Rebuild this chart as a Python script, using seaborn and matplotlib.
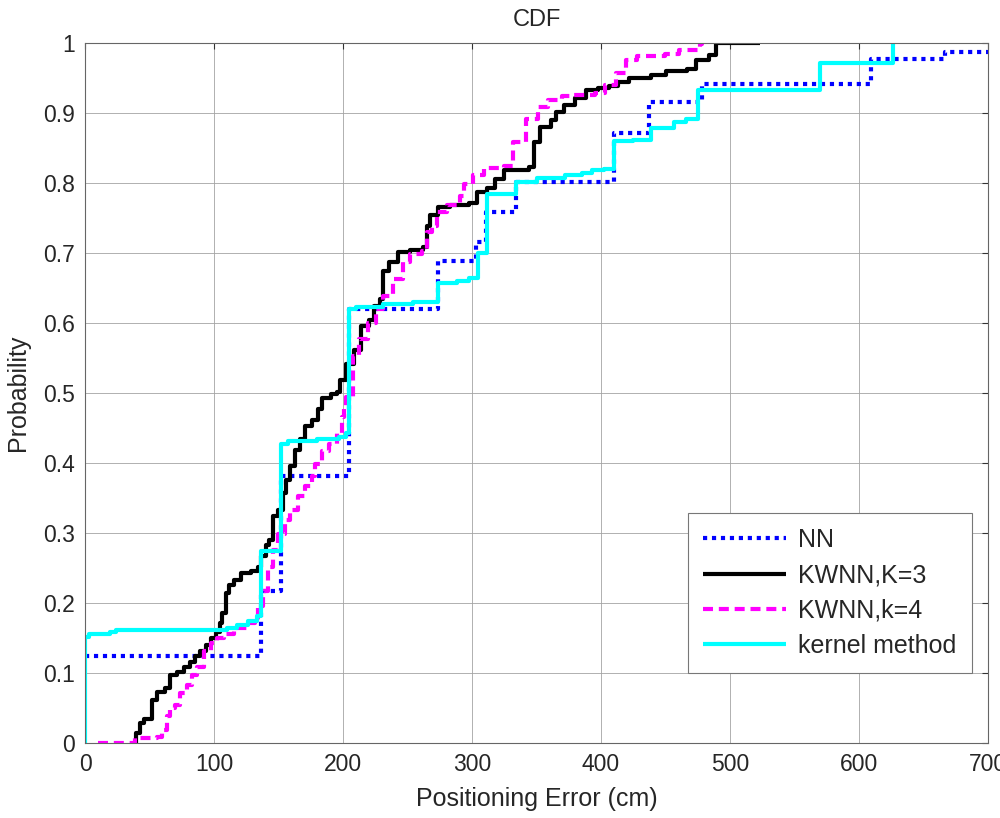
import numpy as np
import pandas as pd
import seaborn as sns
import matplotlib
matplotlib.use("Agg")
import matplotlib.pyplot as plt

# values (step corners of each CDF)
nn_err = [0, 136.6, 151.8, 204.7, 274, 303, 311, 334, 410, 437, 478, 609, 667, 700]
nn_prob = [0.124, 0.217, 0.381, 0.62, 0.689, 0.716, 0.759, 0.801, 0.871, 0.916, 0.942, 0.977, 0.987, 0.987]

k3_err = [37, 39.8, 42.4, 46, 51.6, 55.5, 62, 66, 71, 76.4, 81.7, 85.6, 89.5, 93.5, 97.4,
          101.3, 105, 106.5, 109, 111.8, 115.7, 121, 128.8, 134, 136.6, 140.6, 143, 145.8,
          149.7, 153.7, 156, 159, 162.8, 166.8, 170.7, 176, 181, 184, 190.5, 195.7, 198, 202,
          208.7, 214, 220.5, 224.4, 228.3, 231, 236, 242.6, 251.8, 262, 264.8, 267.4, 274,
          283, 297.4, 304, 311.7, 318, 324.8, 344, 348, 353, 361, 365, 371, 380, 388, 398,
          406, 413, 422, 439, 450, 467, 474, 484, 489, 523]
k3_prob = [0.0, 0.014, 0.028, 0.034, 0.062, 0.073, 0.078, 0.097, 0.102, 0.109, 0.115, 0.124,
           0.131, 0.14, 0.15, 0.159, 0.171, 0.186, 0.214, 0.226, 0.233, 0.243, 0.246, 0.252,
           0.267, 0.283, 0.29, 0.324, 0.333, 0.357, 0.376, 0.396, 0.419, 0.434, 0.453, 0.462,
           0.477, 0.493, 0.498, 0.502, 0.519, 0.541, 0.562, 0.596, 0.604, 0.624, 0.634, 0.675,
           0.687, 0.701, 0.705, 0.708, 0.739, 0.754, 0.766, 0.769, 0.772, 0.787, 0.793, 0.806,
           0.818, 0.823, 0.859, 0.88, 0.89, 0.902, 0.912, 0.921, 0.933, 0.936, 0.938, 0.945,
           0.95, 0.955, 0.96, 0.963, 0.976, 0.983, 1.0, 1.0]

k4_err = [9.7, 38.5, 55.5, 59.4, 63.4, 66, 70, 73.8, 79, 83, 87, 92, 97.4, 102.6, 108, 115.7,
          126, 131.4, 134, 138, 141.9, 145.8, 149.7, 155, 159, 165.4, 170.7, 176, 178.5, 183.8,
          189, 195.5, 199, 200.8, 202, 207.4, 212.6, 219, 225.7, 231, 238.7, 246.5, 251.8, 261,
          264.8, 268.7, 272.6, 280.4, 291, 293.5, 301, 309, 324.5, 332, 341.7, 350.8, 358.7,
          370, 376, 395, 403, 411.6, 419.7, 428, 449.7, 460.5, 477, 478]
k4_prob = [0.0, 0.007, 0.008, 0.019, 0.038, 0.05, 0.054, 0.071, 0.083, 0.097, 0.109, 0.131,
           0.143, 0.15, 0.155, 0.164, 0.171, 0.178, 0.195, 0.217, 0.252, 0.276, 0.298, 0.319,
           0.333, 0.353, 0.367, 0.381, 0.398, 0.417, 0.427, 0.443, 0.466, 0.477, 0.495, 0.553,
           0.577, 0.6, 0.62, 0.639, 0.663, 0.687, 0.699, 0.703, 0.73, 0.739, 0.758, 0.768,
           0.782, 0.799, 0.811, 0.821, 0.825, 0.859, 0.892, 0.909, 0.919, 0.925, 0.926, 0.929,
           0.94, 0.957, 0.976, 0.982, 0.984, 0.99, 0.998, 1.0]

kern_err = [0, 0, 3, 19, 24, 110, 118, 126, 133, 136.6, 151.8, 157.6, 180, 197, 202, 204.7,
            210, 231, 254, 274, 288, 298, 304.4, 311.7, 334, 350, 372, 385, 393, 402, 410, 425,
            439, 456.5, 466, 475.5, 569.4, 626.5]
kern_prob = [0.0, 0.152, 0.155, 0.158, 0.162, 0.164, 0.169, 0.174, 0.182, 0.274, 0.427, 0.431,
             0.434, 0.437, 0.443, 0.62, 0.623, 0.627, 0.63, 0.657, 0.66, 0.664, 0.7, 0.785,
             0.802, 0.807, 0.811, 0.814, 0.818, 0.82, 0.86, 0.862, 0.878, 0.887, 0.892, 0.933,
             0.971, 1.0]

labels = ["NN", "KWNN,K=3", "KWNN,k=4", "kernel method"]
xticks = [0, 100, 200, 300, 400, 500, 600, 700]
yticks = [0, 0.1, 0.2, 0.3, 0.4, 0.5, 0.6, 0.7, 0.8, 0.9, 1.0]
ytick_labels = ["0", "0.1", "0.2", "0.3", "0.4", "0.5", "0.6", "0.7", "0.8", "0.9", "1"]

sns.set_theme(style="white")
plt.rcParams["font.family"] = ["Liberation Sans", "DejaVu Sans"]
plt.rcParams["font.size"] = 18

fig = plt.figure(figsize=(10, 8.18), dpi=100)
ax = fig.add_axes([0.085, 0.0917, 0.903, 0.8557])

series = [
    (nn_err, nn_prob, "#0000ff", (0, (1, 1.15))),
    (k3_err, k3_prob, "#000000", "-"),
    (k4_err, k4_prob, "#ff00ff", (0, (2.4, 1.4))),
    (kern_err, kern_prob, "#00ffff", "-"),
]
for (xs, ys, col, ls), lab in zip(series, labels):
    sns.lineplot(x=xs, y=ys, ax=ax, estimator=None, sort=False, drawstyle="steps-post",
                 color=col, linestyle=ls, linewidth=3, label=lab,
                 dash_capstyle="butt", solid_capstyle="butt")

ax.set_xlim(0, 700)
ax.set_ylim(0, 1)
ax.set_xticks(xticks)
ax.set_yticks(yticks)
ax.set_yticklabels(ytick_labels)
ax.grid(True, color="#a3a3a3", linewidth=0.6, linestyle="-")
ax.tick_params(direction="in", top=True, right=True, length=4, width=0.8,
               color="#333333", labelsize=16.5, pad=7)
for sp in ax.spines.values():
    sp.set_color("#666666")
    sp.set_linewidth(0.8)

ax.set_title("CDF", fontsize=17, pad=12)
ax.set_xlabel("Positioning Error (cm)", fontsize=18, labelpad=8)
ax.set_ylabel("Probability", fontsize=18, labelpad=10)

leg = ax.legend(loc="lower right", bbox_to_anchor=(0.982, 0.1), borderaxespad=0,
                fancybox=False, framealpha=1, edgecolor="#777777", fontsize=18,
                handlelength=3.3, handletextpad=0.5, labelspacing=0.45, borderpad=0.6)
leg.get_frame().set_linewidth(0.8)

fig.savefig("out.png", dpi=100)
